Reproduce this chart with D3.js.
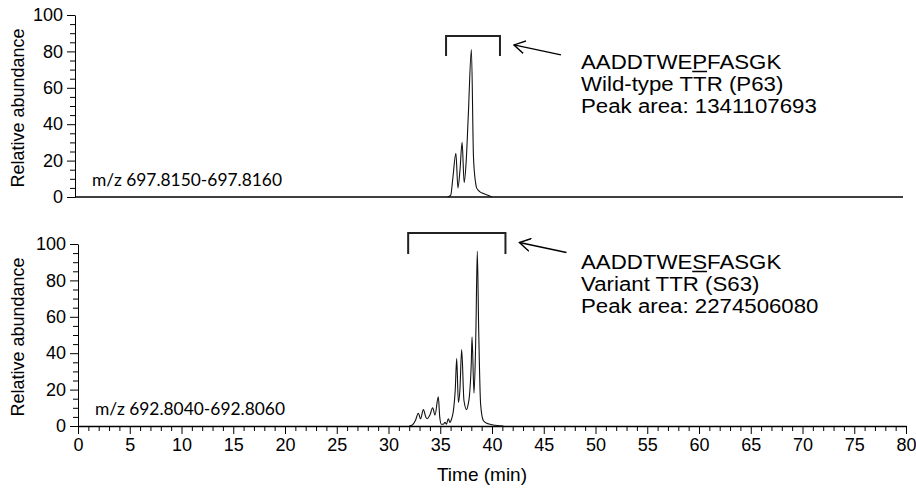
<!DOCTYPE html>
<html>
<head>
<meta charset="utf-8">
<script src="https://cdn.jsdelivr.net/npm/d3@7"></script>
<style>
  body { margin: 0; background: #fff; }
  svg { display: block; font-family: "Liberation Sans", Arial, sans-serif; }
</style>
</head>
<body>
<div id="chart"></div>
<script>
// retention time (min) and relative abundance
const wildTime = [36.0, 36.3, 36.5, 36.8, 37.0, 37.2, 37.4, 37.6, 37.8, 38.0, 38.3, 38.5, 38.7, 38.8, 39.1, 39.4, 39.9, 40.3];
const wildAbund = [0, 1, 10, 24, 5, 15, 30, 8, 20, 45, 81, 22, 8, 5, 3, 2, 1, 0];

const varTime = [32.0, 32.3, 32.6, 32.88, 33.1, 33.37, 33.6, 33.75, 34.0, 34.27, 34.49, 34.81, 34.95, 35.1, 35.3, 35.46, 35.6, 35.78, 35.94, 36.1, 36.26, 36.45, 36.59, 36.75, 36.9, 37.07, 37.29, 37.55, 37.7, 37.81, 38.0, 38.07, 38.26, 38.4, 38.45, 38.58, 38.71, 38.9, 39.16, 39.5, 39.8, 40.5, 41.1];
const varAbund = [0, 0.5, 3, 7, 4, 9, 5, 4, 6, 10, 6, 16, 5, 1, 1, 2, 1, 4, 2, 4, 8, 20, 37, 13, 20, 42, 14, 9, 12, 16, 35, 49, 18, 40, 54, 96, 54, 12, 3, 1.5, 1, 0.3, 0];

const yTicks = [0, 20, 40, 60, 80, 100];
const xTicks = [0, 5, 10, 15, 20, 25, 30, 35, 40, 45, 50, 55, 60, 65, 70, 75, 80];

const panels = [
  {
    name: "wild", time: wildTime, abund: wildAbund,
    mz: "m/z 697.8150-697.8160",
    bracket: [35.85, 41.06], bracketY: [88.5, 77.5],
    lines: [["AADDTWE", "P", "FASGK"], "Wild-type TTR (P63)", "Peak area: 1341107693"],
    x0: 75, top: 15, bottom: 197, showX: false
  },
  {
    name: "variant", time: varTime, abund: varAbund,
    mz: "m/z 692.8040-692.8060",
    bracket: [31.9, 41.3], bracketY: [106, 94.5],
    lines: [["AADDTWE", "S", "FASGK"], "Variant TTR (S63)", "Peak area: 2274506080"],
    x0: 78, top: 244, bottom: 426, showX: true
  }
];

const width = 916, height = 488;
const svg = d3.select("#chart").append("svg")
  .attr("width", width).attr("height", height);

svg.append("defs").append("marker")
  .attr("id", "head")
  .attr("viewBox", "0 0 12 14")
  .attr("refX", 11).attr("refY", 7)
  .attr("markerWidth", 12).attr("markerHeight", 14)
  .attr("markerUnits", "userSpaceOnUse")
  .attr("orient", "auto")
  .append("path")
  .attr("d", "M0,0.5 L11,7 L0,13.5")
  .attr("fill", "none").attr("stroke", "#000").attr("stroke-width", 1.4);

panels.forEach((p) => {
  const x = d3.scaleLinear().domain([0, 80]).range([p.x0, p.x0 + 828]);
  const y = d3.scaleLinear().domain([0, 100]).range([p.bottom, p.top]);
  const g = svg.append("g").attr("class", p.name);

  // y axis with minor ticks
  const yMinor = d3.range(0, 101, 5).filter((v) => v % 20 !== 0);
  g.append("g")
    .attr("transform", `translate(${p.x0},0)`)
    .call(d3.axisLeft(y).tickValues(yMinor).tickSize(5).tickFormat(""))
    .call((a) => a.select(".domain").remove());
  g.append("g")
    .attr("transform", `translate(${p.x0},0)`)
    .call(d3.axisLeft(y).tickValues(yTicks).tickSize(8).tickSizeOuter(0).tickPadding(4))
    .call((a) => a.selectAll("text").attr("font-size", 18).attr("fill", "#000").attr("font-family", "Liberation Sans, Arial"));

  // x axis
  if (p.showX) {
    const xMinor = d3.range(0, 81, 1).filter((v) => v % 5 !== 0);
    g.append("g")
      .attr("transform", `translate(0,${p.bottom})`)
      .call(d3.axisBottom(x).tickValues(xMinor).tickSize(5).tickFormat(""))
      .call((a) => a.select(".domain").remove());
    g.append("g")
      .attr("transform", `translate(0,${p.bottom})`)
      .call(d3.axisBottom(x).tickValues(xTicks).tickSize(8).tickSizeOuter(0).tickPadding(4))
      .call((a) => a.select(".domain").attr("stroke-width", 1.5))
      .call((a) => a.selectAll("text").attr("font-size", 18).attr("fill", "#000").attr("font-family", "Liberation Sans, Arial"));
  } else {
    g.append("line")
      .attr("x1", x(0)).attr("x2", x(80))
      .attr("y1", y(0)).attr("y2", y(0))
      .attr("stroke", "#000").attr("stroke-width", 1.5);
  }

  // y title
  g.append("text")
    .attr("transform", `translate(24,${(p.top + p.bottom) / 2 + 2}) rotate(-90)`)
    .attr("text-anchor", "middle")
    .attr("font-size", 18)
    .text("Relative abundance");

  // chromatogram
  const pts = p.time.map((t, i) => [t, p.abund[i]]);
  g.append("path")
    .datum(pts)
    .attr("fill", "none")
    .attr("stroke", "#111")
    .attr("stroke-width", 1.1)
    .attr("d", d3.line().x((d) => x(d[0])).y((d) => y(d[1])).curve(d3.curveMonotoneX));

  // m/z label
  g.append("text")
    .attr("x", x(0) + 17)
    .attr("y", y(0) - 11)
    .attr("font-family", "Lato, 'Open Sans', sans-serif")
    .attr("font-size", 17)
    .attr("textLength", 190)
    .attr("lengthAdjust", "spacingAndGlyphs")
    .text(p.mz);

  // bracket
  const [b0, b1] = p.bracket;
  const [bt, bb] = p.bracketY;
  g.append("path")
    .attr("d", `M${x(b0)},${y(bb)} L${x(b0)},${y(bt)} L${x(b1)},${y(bt)} L${x(b1)},${y(bb)}`)
    .attr("fill", "none").attr("stroke", "#222").attr("stroke-width", 2);

  // arrow
  const ay = y((bt + bb) / 2);
  g.append("line")
    .attr("x1", x(b1) + 61).attr("y1", ay + 9)
    .attr("x2", x(b1) + 14).attr("y2", ay - 1)
    .attr("stroke", "#000").attr("stroke-width", 1.4)
    .attr("marker-end", "url(#head)");

  // annotation text (slightly widened, as in the original)
  const ty = p.name === "wild" ? 69 : 269;
  const ann = g.append("g").attr("transform", "translate(581,0) scale(1.06,1)");
  p.lines.forEach((ln, i) => {
    const t = ann.append("text")
      .attr("x", 0).attr("y", ty + i * 22)
      .attr("font-size", 21);
    if (Array.isArray(ln)) {
      const a = t.append("tspan").text(ln[0]);
      const b = t.append("tspan").text(ln[1]);
      t.append("tspan").text(ln[2]);
      const u0 = a.node().getComputedTextLength();
      const u1 = u0 + b.node().getComputedTextLength();
      ann.append("line")
        .attr("x1", u0).attr("x2", u1)
        .attr("y1", ty + i * 22 + 2.5).attr("y2", ty + i * 22 + 2.5)
        .attr("stroke", "#000").attr("stroke-width", 1.5);
    } else {
      t.text(ln);
    }
  });
});

svg.append("text")
  .attr("x", 482).attr("y", 481)
  .attr("text-anchor", "middle")
  .attr("font-size", 19)
  .text("Time (min)");
</script>
</body>
</html>
